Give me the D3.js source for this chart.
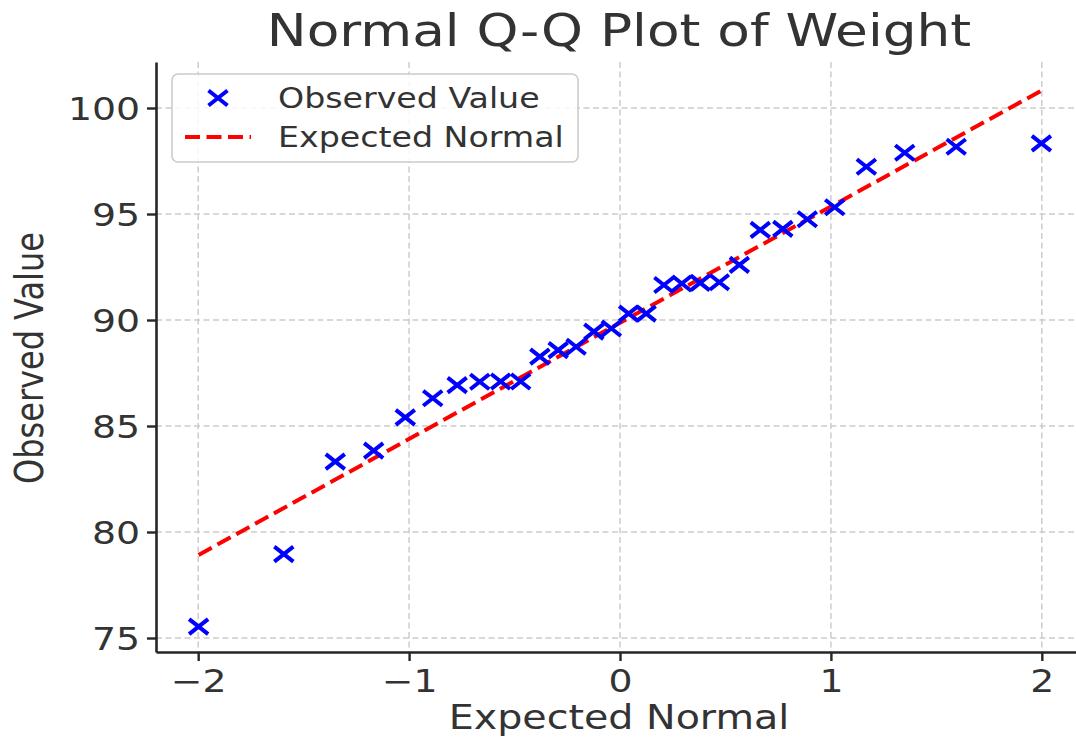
<!DOCTYPE html>
<html>
<head>
<meta charset="utf-8">
<script src="https://cdn.jsdelivr.net/npm/d3@7"></script>
<style>
  body { margin: 0; background: #fff; }
  svg { display: block; }
</style>
</head>
<body>
<svg></svg>
<script>
const width = 1076;
const height = 738;
const sx = 1.2; // the picture is a bit wider than tall, text is stretched too

// theoretical quantiles (x) and sorted observed weights (y)
const theoretical = [-1.998, -1.594, -1.350, -1.168, -1.018, -0.888, -0.772, -0.665, -0.566, -0.471,
                     -0.380, -0.293, -0.208, -0.124, -0.041, 0.041, 0.124, 0.208, 0.293, 0.380,
                     0.471, 0.566, 0.665, 0.772, 0.888, 1.018, 1.168, 1.350, 1.594, 1.998];
const observed = [75.54, 78.96, 83.32, 83.84, 85.41, 86.31, 86.93, 87.09, 87.10, 87.10,
                  88.27, 88.58, 88.74, 89.45, 89.60, 90.30, 90.30, 91.65, 91.72, 91.75,
                  91.78, 92.60, 94.25, 94.30, 94.75, 95.32, 97.23, 97.89, 98.17, 98.33];
// fitted line
const fitX = [-1.998, 1.998];
const fitY = [78.92, 100.82];

const xTicks = [-2, -1, 0, 1, 2];
const yTicks = [75, 80, 85, 90, 95, 100];

const plotLeft = 156, plotRight = 1084, plotTop = 62, plotBottom = 652;
const textColor = "#333";
const font = "DejaVu Sans";

let svg = d3.select("svg")
    .attr("width", width)
    .attr("height", height)
    .style("font-family", font);

let scX = d3.scaleLinear().domain([-2.2, 2.2]).range([plotLeft, plotRight]);
let scY = d3.scaleLinear().domain([74.34, 102.17]).range([plotBottom, plotTop]);

// grid
let grid = svg.append("g")
    .attr("stroke", "#cccccc")
    .attr("stroke-width", 1.5)
    .attr("stroke-dasharray", "6,3.5");
grid.selectAll(".gx")
    .data(xTicks)
    .enter()
    .append("line")
    .attr("x1", d => scX(d)).attr("x2", d => scX(d))
    .attr("y1", plotTop).attr("y2", plotBottom);
grid.selectAll(".gy")
    .data(yTicks)
    .enter()
    .append("line")
    .attr("x1", plotLeft).attr("x2", plotRight)
    .attr("y1", d => scY(d)).attr("y2", d => scY(d));

// axes
let axisY = svg.append("g")
    .attr("transform", `translate(${plotLeft},0)`)
    .call(d3.axisLeft(scY).tickValues(yTicks).tickSize(9).tickSizeOuter(0));
let axisX = svg.append("g")
    .attr("transform", `translate(0,${plotBottom})`)
    .call(d3.axisBottom(scX).tickValues(xTicks).tickFormat(d3.format("d")).tickSize(9).tickSizeOuter(0));

[axisY, axisX].forEach(ax => {
    ax.attr("font-family", font).attr("font-size", 31.5);
    ax.select(".domain").attr("stroke", "#262626").attr("stroke-width", 2.6);
    ax.selectAll(".tick line").attr("stroke", "#262626").attr("stroke-width", 2.4);
    ax.selectAll("text").attr("fill", textColor);
});
axisY.selectAll("text")
    .attr("x", -16 / sx)
    .attr("dy", "0.36em")
    .attr("transform", `scale(${sx},1)`);
axisX.selectAll("text")
    .attr("y", 40)
    .attr("dy", 0)
    .attr("transform", `scale(${sx},1)`)
    .attr("x", 0);

// fitted dashed line
svg.append("path")
    .datum(fitX.map((x, i) => [x, fitY[i]]))
    .attr("d", d3.line().x(d => scX(d[0])).y(d => scY(d[1])))
    .attr("fill", "none")
    .attr("stroke", "#ff0000")
    .attr("stroke-width", 4)
    .attr("stroke-dasharray", "15,6.5");

// x markers
const mx = 9.5, my = 7.5;
svg.selectAll(".pt")
    .data(theoretical.map((x, i) => ({x: x, y: observed[i]})))
    .enter()
    .append("path")
    .attr("d", d => {
        let cx = scX(d.x), cy = scY(d.y);
        return `M${cx - mx},${cy - my}L${cx + mx},${cy + my}M${cx - mx},${cy + my}L${cx + mx},${cy - my}`;
    })
    .attr("stroke", "#0000ff")
    .attr("stroke-width", 4)
    .attr("fill", "none");

// legend
let legend = svg.append("g");
legend.append("rect")
    .attr("x", 172).attr("y", 74)
    .attr("width", 406).attr("height", 88)
    .attr("rx", 6)
    .attr("fill", "#fff").attr("fill-opacity", 0.85)
    .attr("stroke", "#cccccc").attr("stroke-width", 1.6);
legend.append("path")
    .attr("d", `M${218 - mx},${98 - my}L${218 + mx},${98 + my}M${218 - mx},${98 + my}L${218 + mx},${98 - my}`)
    .attr("stroke", "#0000ff").attr("stroke-width", 4);
legend.append("line")
    .attr("x1", 185).attr("x2", 251)
    .attr("y1", 137).attr("y2", 137)
    .attr("stroke", "#ff0000").attr("stroke-width", 4)
    .attr("stroke-dasharray", "15,6.5");
const legendLabels = ["Observed Value", "Expected Normal"];
legend.selectAll(".lt")
    .data(legendLabels)
    .enter()
    .append("text")
    .attr("transform", (d, i) => `translate(278,${107.5 + i * 39}) scale(${sx},1)`)
    .attr("font-size", 27.7)
    .attr("fill", textColor)
    .text(d => d);

// title and axis labels
svg.append("text")
    .attr("transform", `translate(${(plotLeft + plotRight) / 2 - 1},46) scale(${sx},1)`)
    .attr("text-anchor", "middle")
    .attr("font-size", 44.4)
    .attr("fill", textColor)
    .text("Normal Q-Q Plot of Weight");

svg.append("text")
    .attr("transform", `translate(${(plotLeft + plotRight) / 2 - 1},729) scale(${sx},1)`)
    .attr("text-anchor", "middle")
    .attr("font-size", 33)
    .attr("fill", textColor)
    .text("Expected Normal");

svg.append("text")
    .attr("transform", `translate(43,${(plotTop + plotBottom) / 2 + 1}) scale(${sx},1) rotate(-90)`)
    .attr("text-anchor", "middle")
    .attr("font-size", 32)
    .attr("fill", textColor)
    .text("Observed Value");
</script>
</body>
</html>
